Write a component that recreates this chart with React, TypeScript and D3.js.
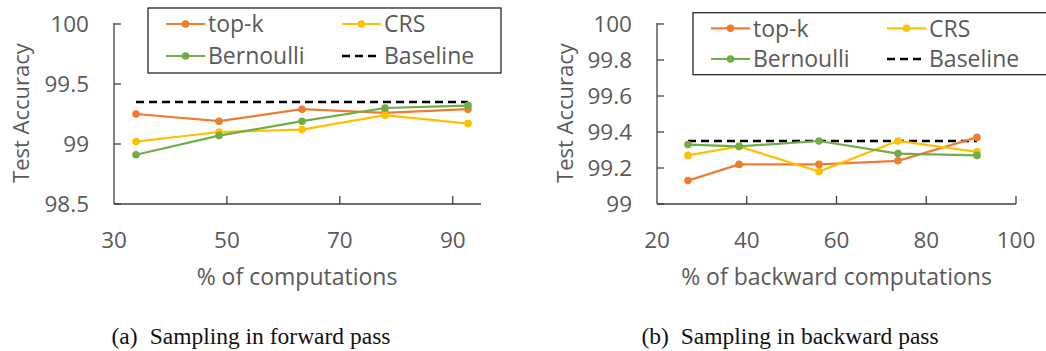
import React from 'react';
import * as d3 from 'd3';

// forward pass sampling (panel a)
const fwdX = [33.9, 48.6, 63.3, 78.0, 92.7];
const fwdTopK = [99.25, 99.19, 99.29, 99.26, 99.29];
const fwdCRS = [99.02, 99.10, 99.12, 99.24, 99.17];
const fwdBern = [98.91, 99.07, 99.19, 99.30, 99.32];
const fwdBaseline = 99.35;
const fwdXTicks = [30, 50, 70, 90];
const fwdYTicks = [98.5, 99, 99.5, 100];

// backward pass sampling (panel b)
const bwdX = [26.9, 38.3, 56.1, 73.7, 91.3];
const bwdTopK = [99.13, 99.22, 99.22, 99.24, 99.37];
const bwdCRS = [99.27, 99.32, 99.18, 99.35, 99.29];
const bwdBern = [99.33, 99.32, 99.35, 99.28, 99.27];
const bwdBaseline = 99.35;
const bwdXTicks = [20, 40, 60, 80, 100];
const bwdYTicks = [99, 99.2, 99.4, 99.6, 99.8, 100];

const seriesNames = ['top-k', 'CRS', 'Bernoulli'];
const colors = ['#ED7D31', '#FFC000', '#70AD47'];

const FONT = '"Open Sans", Lato, sans-serif';
const FS = 23;      // titles + legend
const TICK_FS = 22.5;
const TEXT = '#595959';
const AXIS = '#404040';

function Panel(props) {
    const { xs, series, baseline, xTicks, yTicks, xDomain, yDomain, box, xTitle, yTitleX, yFmt, legend, lastTick } = props;

    const x = d3.scaleLinear().domain(xDomain).range([box.l, box.r]);
    const y = d3.scaleLinear().domain(yDomain).range([box.b, box.t]);

    const line = d3.line()
        .x(d => x(d[0]))
        .y(d => y(d[1]));

    const yTickEls = yTicks.map(d =>
        <g key={'y' + d}>
            <line x1={box.l} x2={box.l + 7} y1={y(d)} y2={y(d)} stroke={AXIS} strokeWidth={1.3}/>
            <text x={box.l - 25} y={y(d)} dy="0.36em" textAnchor="end" fontSize={TICK_FS} fill={TEXT}>{yFmt(d)}</text>
        </g>
    );

    const xTickEls = xTicks.map(d =>
        <g key={'x' + d}>
            {(d !== xTicks[0] && (lastTick || x(d) < box.r)) ?
                <line x1={x(d)} x2={x(d)} y1={box.b} y2={box.b - 8} stroke={AXIS} strokeWidth={1.3}/> : null}
            <text x={x(d)} y={box.b + 36} dy="0.36em" textAnchor="middle" fontSize={TICK_FS} fill={TEXT}>{d}</text>
        </g>
    );

    const lines = series.map((s, i) => {
        const pts = xs.map((v, j) => [v, s[j]]);
        return (
            <g key={'s' + i}>
                <path d={line(pts)} fill="none" stroke={colors[i]} strokeWidth={2.2}/>
                {pts.map((p, j) =>
                    <circle key={j} cx={x(p[0])} cy={y(p[1])} r={3.8} fill={colors[i]}/>
                )}
            </g>
        );
    });

    const baseLine = (
        <line x1={x(xs[0])} x2={x(xs[xs.length - 1])} y1={y(baseline)} y2={y(baseline)}
            stroke="#000" strokeWidth={2.3} strokeDasharray="8,5"/>
    );

    // legend: 2 columns x 2 rows
    const lg = legend;
    const legendItems = [
        { name: seriesNames[0], color: colors[0], col: 0, row: 0 },
        { name: seriesNames[1], color: colors[1], col: 1, row: 0 },
        { name: seriesNames[2], color: colors[2], col: 0, row: 1 },
        { name: 'Baseline', color: '#000', col: 1, row: 1, dash: true },
    ];

    return (
        <g>
            <rect x={lg.x} y={lg.y} width={lg.w} height={lg.h} fill="#fff" stroke="#262626" strokeWidth={1.3}/>
            {legendItems.map(it => {
                const sx = lg.cols[it.col];
                const sy = lg.rows[it.row];
                return (
                    <g key={it.name}>
                        <line x1={sx} x2={sx + 39} y1={sy} y2={sy} stroke={it.color}
                            strokeWidth={it.dash ? 2.3 : 2.2} strokeDasharray={it.dash ? '8,5' : null}/>
                        {it.dash ? null : <circle cx={sx + 19.5} cy={sy} r={3.8} fill={it.color}/>}
                        <text x={sx + 42} y={sy} dy="0.36em" fontSize={FS} fill={TEXT}>{it.name}</text>
                    </g>
                );
            })}

            <line x1={box.l} x2={box.r} y1={box.b} y2={box.b} stroke={AXIS} strokeWidth={1.3}/>
            <line x1={box.l} x2={box.l} y1={box.t - 1} y2={box.b} stroke={AXIS} strokeWidth={1.3}/>
            {yTickEls}
            {xTickEls}

            {baseLine}
            {lines}

            <text x={xTitle.cx} y={285} textAnchor="middle" fontSize={FS} fill={TEXT}>{xTitle.text}</text>
            <text transform={`translate(${yTitleX},${(box.t + box.b) / 2 - 1}) rotate(-90)`} textAnchor="middle" fontSize={22} fill={TEXT}>Test Accuracy</text>
        </g>
    );
}

export default function App() {
    return (
        <svg width={1046} height={351} style={{ position: 'absolute', left: 0, top: 0, fontFamily: FONT }}>
            <rect width={1046} height={351} fill="#fff"/>
            <Panel
                xs={fwdX}
                series={[fwdTopK, fwdCRS, fwdBern]}
                baseline={fwdBaseline}
                xTicks={fwdXTicks}
                yTicks={fwdYTicks}
                xDomain={[30, 95]}
                yDomain={[98.5, 100]}
                box={{ l: 114, r: 481, t: 24, b: 204 }}
                xTitle={{ text: '% of computations', cx: 297 }}
                yTitleX={29}
                yFmt={d => d3.format('')(d)}
                legend={{ x: 148, y: 8, w: 353, h: 65, cols: [166, 342], rows: [24, 56] }}
                lastTick={false}
            />
            <Panel
                xs={bwdX}
                series={[bwdTopK, bwdCRS, bwdBern]}
                baseline={bwdBaseline}
                xTicks={bwdXTicks}
                yTicks={bwdYTicks}
                xDomain={[20, 100]}
                yDomain={[99, 100]}
                box={{ l: 657, r: 1016, t: 24, b: 204 }}
                xTitle={{ text: '% of backward computations', cx: 836.5 }}
                yTitleX={573}
                yFmt={d => d3.format('')(+d.toFixed(1))}
                legend={{ x: 693, y: 12.7, w: 360, h: 62, cols: [711, 887], rows: [28.3, 59] }}
                lastTick={true}
            />
            <g fontFamily='"Liberation Serif", "Times New Roman", serif' fontSize={23.5} fill="#111">
                <text x={251} y={344} textAnchor="middle">(a)<tspan dx={12}>Sampling in forward pass</tspan></text>
                <text x={790} y={344} textAnchor="middle">(b)<tspan dx={12}>Sampling in backward pass</tspan></text>
            </g>
        </svg>
    );
}
